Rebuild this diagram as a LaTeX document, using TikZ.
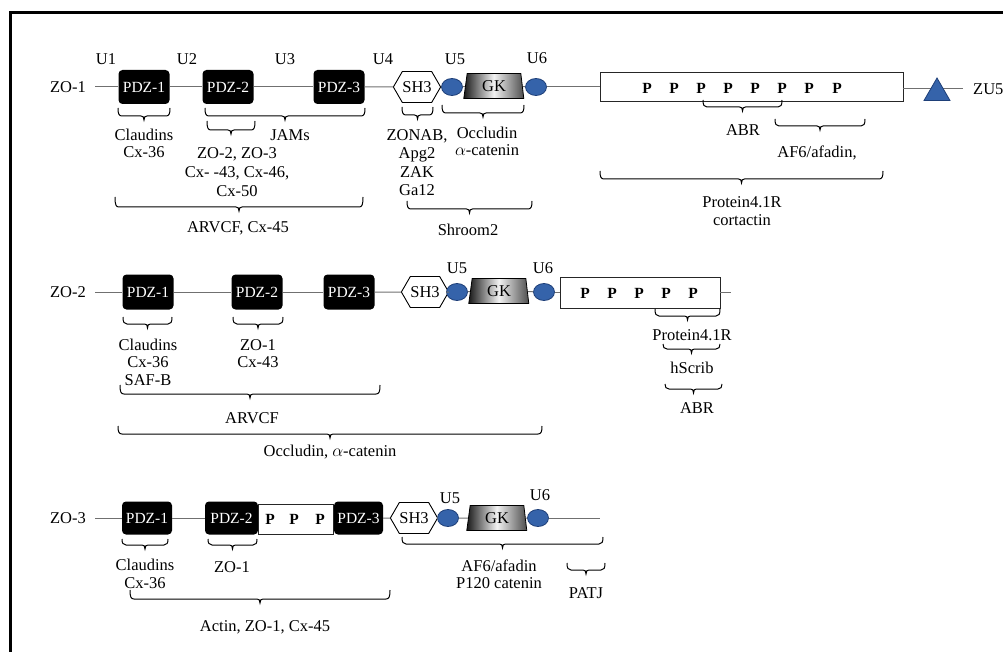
\documentclass[tikz,border=0pt]{standalone}
\usepackage{fontspec}
\setmainfont{Liberation Serif}
\usetikzlibrary{shapes.geometric,shapes.symbols}
\definecolor{domblue}{HTML}{3563AA}
\definecolor{domblueD}{HTML}{1E3F78}
\definecolor{bbone}{HTML}{707070}
% bracket-like brace: [depth]{x1}{x2}{ytop}
\newcommand\zbrace[4][8]{%
  \pgfmathsetmacro\zbm{(#2+#3)/2}%
  \draw[brk] (#2,#4) .. controls (#2,#4+#1-2) and (#2+1,#4+#1) .. (#2+4,#4+#1)
    -- (\zbm-3,#4+#1) .. controls (\zbm-1,#4+#1) and (\zbm,#4+#1+1) .. (\zbm,#4+#1+4)
    .. controls (\zbm,#4+#1+1) and (\zbm+1,#4+#1) .. (\zbm+3,#4+#1)
    -- (#3-4,#4+#1) .. controls (#3-1,#4+#1) and (#3,#4+#1-2) .. (#3,#4);}
\begin{document}
\begin{tikzpicture}[x=1pt,y=-1pt,
  every node/.style={font=\fontsize{16.5}{17.5}\selectfont, inner sep=0pt},
  pdz/.style={rectangle, rounded corners=4pt, fill=black, text=white, font=\fontsize{15.5}{17.5}\selectfont, minimum width=51pt, minimum height=34pt},
  sh/.style={signal, signal to=west and east, signal pointer angle=120, draw=black, fill=white, line width=0.9pt, minimum width=42pt, minimum height=31pt},
  ue/.style={ellipse, fill=domblue, draw=domblueD, line width=0.8pt, minimum width=21pt, minimum height=17pt},
  gk/.style={trapezium, trapezium left angle=73, trapezium right angle=75, trapezium stretches body, draw=black, line width=0.8pt, left color=black!90, right color=black!70, middle color=gray!10, minimum width=60pt, minimum height=25pt},
  pbox/.style={rectangle, draw=black!85, line width=0.9pt, fill=white},
  pp/.style={font=\fontsize{15.5}{17.5}\selectfont\bfseries},
  tri/.style={regular polygon, regular polygon sides=3, fill=domblue, draw=domblueD, line width=0.8pt, minimum size=30pt},
  rowlbl/.style={inner xsep=9pt},
  bb/.style={draw=bbone, line width=1pt},
  brk/.style={draw=black, line width=1pt},
  lbl/.style={align=center},
]
\useasboundingbox (0,0) rectangle (1003,652);
\clip (0,0) rectangle (1003,652);
% frame
\draw[line width=3pt, line join=miter] (10,700) -- (10,13) -- (1030,13);

% ---------------- ZO-1 ----------------
\node[rowlbl] (zo1) at (68,87) {ZO-1};
\node[pdz] (p11) at (144,87) {PDZ-1};
\node[pdz] (p12) at (228,87) {PDZ-2};
\node[pdz] (p13) at (339,87) {PDZ-3};
\node[sh] (s1) at (417,87) {SH3};
\node[ue] (a1) at (452,87) {};
\node[gk] (g1) at (494,86) {GK};
\node[ue] (b1) at (536,87) {};
\node[pbox, minimum width=303pt, minimum height=29pt] (q1) at (751.5,86.5) {};
\foreach \i/\x in {1/647,2/674,3/701,4/728,5/755,6/782,7/809,8/837}
  \node[pp] (q1p\i) at (\x,88) {P};
\coordinate (z1) at (963,89);
\draw[bb] (q1.east |- z1) -- (z1);
\node[tri] (t1) at (937,93) {};
\node[anchor=west] (zu5) at (973,89) {ZU5};
\draw[bb] (zo1) -- (p11);
\draw[bb] (p11) -- (p12);
\draw[bb] (p12) -- (p13);
\draw[bb] (p13) -- (s1);
\draw[bb] (s1) -- (a1);
\draw[bb] (a1) -- (g1);
\draw[bb] (g1) -- (b1);
\draw[bb] (b1) -- (q1.west |- b1);
\node (u11) at (106,59) {U1};
\node (u12) at (187,59) {U2};
\node (u13) at (285,59) {U3};
\node (u14) at (383,59) {U4};
\node (u15) at (455,59) {U5};
\node (u16) at (537,58) {U6};

\zbrace{118}{170}{108}
\node[lbl] (c11) at (144,143.5) {Claudins\\Cx-36};
\zbrace{205}{365}{108}
\node (c12) at (290,135) {JAMs};
\zbrace[9]{207}{255}{121}
\node[lbl] (c13) at (237,172) {ZO-2, ZO-3\\[1.5pt]Cx- -43, Cx-46,\\[1.5pt]Cx-50};
\zbrace[10]{115}{363}{197}
\node (c14) at (238,228) {ARVCF, Cx-45};
\zbrace{402}{433}{107}
\node[lbl] (c15) at (417,163) {ZONAB,\\Apg2\\[1.5pt]ZAK\\[1pt]Ga12};
\zbrace{442}{524}{105}
\node[lbl] (c16) at (487,141.5) {Occludin\\$\alpha$-catenin};
\zbrace{407}{532}{201}
\node (c17) at (468,230) {Shroom2};
\zbrace[7]{703}{782}{100}
\node (c18) at (743,130) {ABR};
\zbrace[7]{775}{865}{119}
\node (c19) at (817,153) {AF6/afadin,};
\zbrace{600}{883}{171}
\node[lbl] (c110) at (742,211) {Protein4.1R\\cortactin};

% ---------------- ZO-2 ----------------
\node[rowlbl] (zo2) at (68,292) {ZO-2};
\node[pdz, minimum height=35pt] (p21) at (148,292) {PDZ-1};
\node[pdz, minimum height=35pt] (p22) at (257,292) {PDZ-2};
\node[pdz, minimum height=35pt] (p23) at (349,292) {PDZ-3};
\node[sh] (s2) at (425,292) {SH3};
\node[ue] (a2) at (457,292) {};
\node[gk] (g2) at (499,291) {GK};
\node[ue] (b2) at (544,292) {};
\node[pbox, minimum width=160pt, minimum height=31pt] (q2) at (640,293) {};
\foreach \i/\x in {1/585,2/612,3/639,4/666,5/693}
  \node[pp] (q2p\i) at (\x,293) {P};
\coordinate (e2) at (731,292);
\draw[bb] (zo2) -- (p21);
\draw[bb] (p21) -- (p22);
\draw[bb] (p22) -- (p23);
\draw[bb] (p23) -- (s2);
\draw[bb] (s2) -- (a2);
\draw[bb] (a2) -- (g2);
\draw[bb] (g2) -- (b2);
\draw[bb] (b2) -- (q2.west |- b2);
\draw[bb] (q2.east |- e2) -- (e2);
\node (u25) at (457,268) {U5};
\node (u26) at (543,268) {U6};

\zbrace[7]{123}{172}{317}
\node[lbl] (c21) at (148,362) {Claudins\\Cx-36\\SAF-B};
\zbrace[7]{233}{283}{317}
\node[lbl] (c22) at (258,353.5) {ZO-1\\Cx-43};
\zbrace[9]{120}{380}{385}
\node (c23) at (252,418) {ARVCF};
\zbrace{118}{542}{426}
\node (c24) at (330,452) {Occludin, $\alpha$-catenin};
\zbrace[7]{655}{720}{309}
\node (c25) at (692,335) {Protein4.1R};
\zbrace[5]{663}{720}{344}
\node (c26) at (692,368) {hScrib};
\zbrace[5]{665}{722}{384}
\node (c27) at (697,408) {ABR};

% ---------------- ZO-3 ----------------
\node[rowlbl] (zo3) at (68,518) {ZO-3};
\node[pdz, minimum width=50pt, minimum height=33pt] (p31) at (147,518) {PDZ-1};
\node[pdz, minimum width=53pt, minimum height=33pt] (p32) at (231.5,518) {PDZ-2};
\node[pbox, minimum width=75pt, minimum height=30pt] (q3) at (295.5,519) {};
\node[pdz, minimum width=49pt, minimum height=33pt] (p33) at (358.5,518) {PDZ-3};
\foreach \i/\x in {1/270,2/294,3/320}
  \node[pp] (q3p\i) at (\x,519) {P};
\node[sh, minimum width=45pt] (s3) at (414,518) {SH3};
\node[ue] (a3) at (448,518) {};
\node[gk] (g3) at (497,518) {GK};
\node[ue] (b3) at (538,518) {};
\coordinate (e3) at (600,518);
\draw[bb] (zo3) -- (p31);
\draw[bb] (p31) -- (p32);
\draw[bb] (p33) -- (s3);
\draw[bb] (s3) -- (a3);
\draw[bb] (a3) -- (g3);
\draw[bb] (g3) -- (b3);
\draw[bb] (b3) -- (e3);
\node (u35) at (450,498) {U5};
\node (u36) at (540,495) {U6};

\zbrace[6]{122}{168}{539}
\node[lbl] (c31) at (145,574) {Claudins\\Cx-36};
\zbrace[6]{208}{257}{539}
\node (c32) at (232,567) {ZO-1};
\zbrace[9]{130}{390}{590}
\node (c33) at (265,627) {Actin, ZO-1, Cx-45};
\zbrace[7]{402}{603}{537}
\node[lbl] (c34) at (499,574.5) {AF6/afadin\\P120 catenin};
\zbrace[7]{567}{605}{563}
\node (c35) at (586,593) {PATJ};
\end{tikzpicture}
\end{document}
